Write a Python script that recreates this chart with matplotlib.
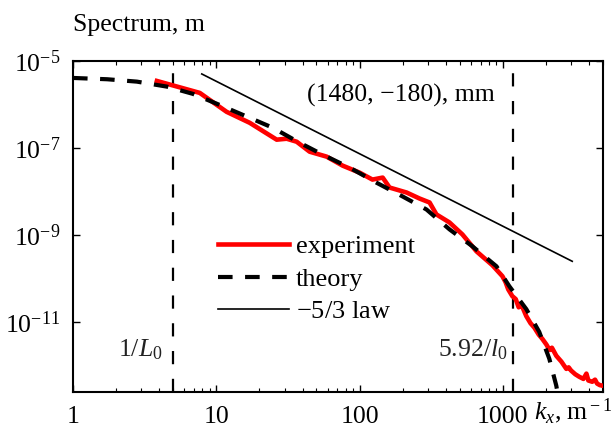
import matplotlib
matplotlib.use("Agg")
import matplotlib.pyplot as plt
from matplotlib.ticker import FixedLocator, FixedFormatter, LogLocator, NullLocator, LogFormatterMathtext

plt.rcParams['font.family'] = ['Liberation Serif', 'DejaVu Serif']
plt.rcParams['mathtext.fontset'] = 'custom'
plt.rcParams['mathtext.rm'] = 'Liberation Serif'
plt.rcParams['mathtext.it'] = 'Liberation Serif:italic'
plt.rcParams['lines.scale_dashes'] = False

FS = 18.5

# theory curve
theory_k = [1, 1.73, 2.79, 4.52, 6.86, 10.1, 17.1, 24.8, 37.0, 55.3, 85.2, 131,
            200, 293, 424, 613, 902, 1110, 1458, 1795, 2110, 2360, 2600]
theory_s = [4.08e-6, 3.81e-6, 3.36e-6, 2.58e-6, 1.76e-6, 1.04e-6, 4.96e-7, 2.93e-7,
            1.40e-7, 7.06e-8, 3.56e-8, 1.61e-8, 7.72e-9, 3.89e-9, 1.36e-9, 5.55e-10,
            1.93e-10, 6.7e-11, 2.0e-11, 6.0e-12, 1.45e-12, 3.5e-13, 6e-14]

# measured spectrum (noisy tail read point by point)
exp_k = [3.85, 7.67, 11.8, 17.1, 26.4, 31.0, 36.4, 44.8, 58.9, 76.2, 100, 123, 145,
         162, 213, 262, 308, 344, 424, 522, 654, 845, 993, 1045, 1090, 1164, 1230,
         1290, 1350, 1458, 1560, 1660, 1780, 1884, 2010, 2120, 2200, 2360, 2460,
         2560, 2773, 2880, 2990, 3200, 3413, 3650, 3830, 3950, 4204, 4400, 4550,
         4750, 4935]
exp_s = [3.48e-6, 1.85e-6, 6.81e-7, 3.81e-7, 1.56e-7, 1.64e-7, 1.40e-7, 8.27e-8,
         6.36e-8, 3.95e-8, 2.73e-8, 1.89e-8, 2.10e-8, 1.24e-8, 9.53e-9, 6.95e-9,
         5.63e-9, 2.99e-9, 1.96e-9, 1.04e-9, 4.26e-10, 2.04e-10, 1.14e-10, 8.3e-11,
         5.7e-11, 3.98e-11, 3.4e-11, 2.2e-11, 2.5e-11, 1.38e-11, 9.5e-12, 7.5e-12,
         5.2e-12, 4.17e-12, 3.1e-12, 2.3e-12, 2.6e-12, 1.70e-12, 1.45e-12, 1.25e-12,
         8.5e-13, 9.2e-13, 7.8e-13, 6.4e-13, 5.6e-13, 5.0e-13, 6.6e-13, 4.6e-13,
         4.3e-13, 4.8e-13, 3.9e-13, 3.6e-13, 3.5e-13]

# -5/3 reference line end points
law_k = [7.92, 3050]
law_s = [5.04e-6, 2.51e-10]

L0_mark = 5
l0_mark = 1180

xtick_vals = [1, 10, 100, 1000]
xtick_labels = ['1', '10', '100', '1000']
ytick_vals = [1e-11, 1e-9, 1e-7, 1e-5]

fig = plt.figure(figsize=(6.13, 4.28), dpi=100)
ax = fig.add_axes([73 / 613, 1 - 392 / 428, 530 / 613, 331 / 428])

ax.plot(exp_k, exp_s, color='#ff0000', lw=3.3, label='experiment',
        solid_joinstyle='round', zorder=3)
ax.plot(theory_k, theory_s, color='black', lw=3.0, ls=(0, (10.5, 9)),
        label='theory', zorder=4)
ax.plot(law_k, law_s, color='black', lw=1.2, label=r'$-$5/3 law')
for xv in [L0_mark, l0_mark]:
    ax.axvline(xv, color='black', lw=1.6, ls=(0, (9.5, 10.5)), zorder=2)

ax.set_xscale('log')
ax.set_yscale('log')
ax.set_xlim(1, 5000)
ax.set_ylim(2.5e-13, 1e-5)

ax.xaxis.set_major_locator(FixedLocator(xtick_vals))
ax.xaxis.set_major_formatter(FixedFormatter(xtick_labels))
ax.xaxis.set_minor_locator(LogLocator(base=10, subs=range(2, 10), numticks=20))
ax.yaxis.set_major_locator(FixedLocator(ytick_vals))
ax.yaxis.set_major_formatter(LogFormatterMathtext())
ax.yaxis.set_minor_locator(NullLocator())

ax.tick_params(which='both', direction='in', top=True, right=True, labelsize=FS)
ax.tick_params(which='major', length=5, width=1)
ax.tick_params(which='minor', length=3, width=0.8)
ax.tick_params(axis='x', pad=10)
ax.tick_params(axis='y', pad=9)
for sp in ax.spines.values():
    sp.set_linewidth(1.5)

fig.text(73 / 613, 1 - 25 / 428, 'Spectrum, m', fontsize=FS, va='center', ha='left')
fig.text(1.0, 1 - 411 / 428, r'$k_x$, m$^{\rm -1}$', fontsize=FS, va='center', ha='right')
fig.text(495 / 613, 1 - 95 / 428, '(1480, \u2212180), mm', fontsize=FS, va='center', ha='right')
fig.text(163 / 613, 1 - 350 / 428, r'$1/L_0$', fontsize=FS, va='center', ha='right', color='#222222')
fig.text(508 / 613, 1 - 350 / 428, r'$5.92/l_0$', fontsize=FS, va='center', ha='right', color='#222222')

ax.legend(loc='center left', bbox_to_anchor=((218 - 73) / 530, (392 - 279) / 331),
          frameon=False, fontsize=19, handlelength=2.7, handletextpad=0.25,
          labelspacing=0.35, borderpad=0, borderaxespad=0)

fig.savefig('out.png', dpi=100)
